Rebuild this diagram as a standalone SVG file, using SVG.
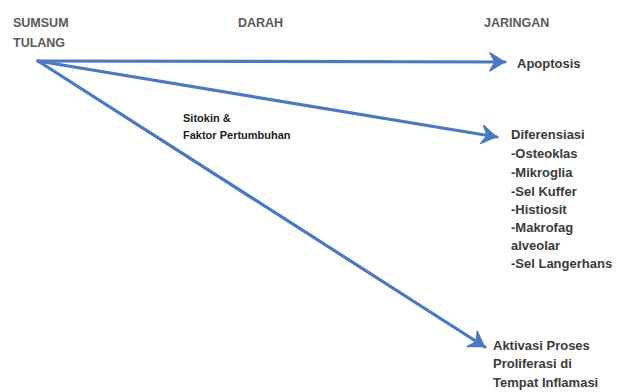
<svg xmlns="http://www.w3.org/2000/svg" width="622" height="392" viewBox="0 0 622 392">
<defs>
<style>
.hdr{font-family:"Liberation Sans",Arial,sans-serif;font-weight:bold;font-size:12.5px;fill:#5a5a5a}
.lbl{font-family:"Liberation Sans",Arial,sans-serif;font-weight:bold;font-size:13px;fill:#3a3a3a}
.mid{font-family:"Liberation Sans",Arial,sans-serif;font-weight:bold;font-size:11px;fill:#222}
.conn{stroke:#4a78c2;stroke-width:3.2;fill:none;stroke-linecap:round}
</style>
<marker id="arr" markerUnits="userSpaceOnUse" viewBox="-18 -11 22 22" refX="0" refY="0" markerWidth="22" markerHeight="22" orient="auto">
<path d="M -15 -9 L -1 0 L -15 9 L -10 0 Z" fill="#4a78c2" stroke="#4a78c2" stroke-width="1.5" stroke-linejoin="round"/>
</marker>
</defs>
<rect width="622" height="392" fill="#fff"/>
<g id="headers">
<g id="sumsum"><text class="hdr" x="13" y="27">SUMSUM</text><text class="hdr" x="13" y="47">TULANG</text></g>
<g id="darah"><text class="hdr" x="238" y="27">DARAH</text></g>
<g id="jaringan"><text class="hdr" x="484" y="27">JARINGAN</text></g>
</g>
<g id="connectors">
<line class="conn" x1="38" y1="61" x2="505" y2="62" marker-end="url(#arr)"/>
<line class="conn" x1="38" y1="61" x2="497" y2="137" marker-end="url(#arr)"/>
<line class="conn" x1="38" y1="61" x2="485" y2="347" marker-end="url(#arr)"/>
</g>
<g id="sitokin"><text class="mid" x="183" y="122">Sitokin &amp;</text><text class="mid" x="183" y="139">Faktor  Pertumbuhan</text></g>
<g id="apoptosis"><text class="lbl" x="517" y="68">Apoptosis</text></g>
<g id="diferensiasi">
<text class="lbl" x="511" y="139">Diferensiasi</text>
<text class="lbl" x="511" y="158">-Osteoklas</text>
<text class="lbl" x="511" y="177">-Mikroglia</text>
<text class="lbl" x="511" y="196">-Sel Kuffer</text>
<text class="lbl" x="511" y="214">-Histiosit</text>
<text class="lbl" x="511" y="232">-Makrofag</text>
<text class="lbl" x="511" y="250">alveolar</text>
<text class="lbl" x="511" y="268">-Sel Langerhans</text>
</g>
<g id="aktivasi">
<text class="lbl" x="493" y="350">Aktivasi Proses</text>
<text class="lbl" x="493" y="368">Proliferasi di</text>
<text class="lbl" x="493" y="387">Tempat Inflamasi</text>
</g>
</svg>
